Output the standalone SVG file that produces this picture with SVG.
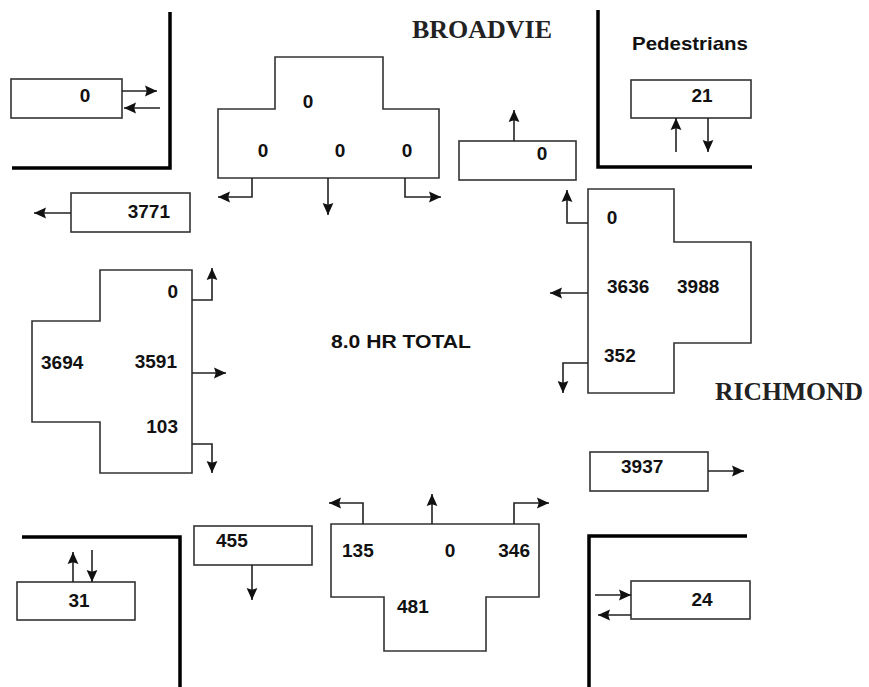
<svg xmlns="http://www.w3.org/2000/svg" width="869" height="687" viewBox="0 0 869 687">
<defs>
<marker id="ah" viewBox="0 0 10 10" refX="10" refY="5" markerWidth="12" markerHeight="12" markerUnits="userSpaceOnUse" orient="auto">
<path d="M0,0.5 L10,5 L0,9.5 L1.5,5 Z" fill="#111"/>
</marker>
<style>
.box{fill:#fff;stroke:#333;stroke-width:1.6}
.wall{fill:none;stroke:#000;stroke-width:3.5}
.arr{fill:none;stroke:#222;stroke-width:1.6;marker-end:url(#ah)}
.num{font-family:"Liberation Sans",Arial,sans-serif;font-weight:bold;font-size:19px;fill:#111}
.street{font-family:"Liberation Serif","Times New Roman",serif;font-weight:bold;font-size:25px;fill:#222}
</style>
</defs>
<rect width="869" height="687" fill="#fff"/>

<g id="walls">
<path class="wall" d="M12,168 H170 V12"/>
<path class="wall" d="M598,10 V167 H752"/>
<path class="wall" d="M22,537 H180 V687"/>
<path class="wall" d="M747,536 H589 V687"/>
</g>

<g id="labels">
<text class="street" x="412" y="38" textLength="140" lengthAdjust="spacingAndGlyphs">BROADVIE</text>
<text class="street" x="715" y="400" textLength="148" lengthAdjust="spacingAndGlyphs">RICHMOND</text>
<text class="num" x="632" y="50" font-size="17" textLength="116" lengthAdjust="spacingAndGlyphs">Pedestrians</text>
<text class="num" x="331" y="348" textLength="140" lengthAdjust="spacingAndGlyphs">8.0 HR TOTAL</text>
</g>

<g id="ped-nw">
<rect class="box" x="11" y="79" width="111" height="39"/>
<text class="num" x="85" y="102" text-anchor="middle">0</text>
</g>
<g id="exit-west">
<rect class="box" x="71" y="193" width="119" height="39"/>
<text class="num" x="170" y="218" text-anchor="end">3771</text>
</g>
<g id="north-approach">
<path class="box" d="M218,178 V109 H275 V57 H383 V109 H439 V178 Z"/>
<text class="num" x="308" y="108" text-anchor="middle">0</text>
<text class="num" x="263" y="157" text-anchor="middle">0</text>
<text class="num" x="340" y="157" text-anchor="middle">0</text>
<text class="num" x="407" y="157" text-anchor="middle">0</text>
</g>
<g id="exit-north">
<rect class="box" x="459" y="141" width="117" height="39"/>
<text class="num" x="542" y="160" text-anchor="middle">0</text>
</g>
<g id="ped-ne">
<rect class="box" x="631" y="80" width="120" height="38"/>
<text class="num" x="702" y="102" text-anchor="middle">21</text>
</g>
<g id="east-approach">
<path class="box" d="M588,189 H674 V242 H751 V343 H674 V393 H588 Z"/>
<text class="num" x="612" y="224" text-anchor="middle">0</text>
<text class="num" x="607" y="293">3636</text>
<text class="num" x="677" y="293">3988</text>
<text class="num" x="604" y="362">352</text>
</g>
<g id="exit-east">
<rect class="box" x="590" y="452" width="118" height="39"/>
<text class="num" x="621" y="473">3937</text>
</g>
<g id="west-approach">
<path class="box" d="M100,270 H192 V473 H100 V422 H32 V321 H100 Z"/>
<text class="num" x="178" y="298" text-anchor="end">0</text>
<text class="num" x="41" y="369">3694</text>
<text class="num" x="177" y="368" text-anchor="end">3591</text>
<text class="num" x="178" y="433" text-anchor="end">103</text>
</g>
<g id="exit-south">
<rect class="box" x="194" y="526" width="118" height="39"/>
<text class="num" x="216" y="547">455</text>
</g>
<g id="ped-sw">
<rect class="box" x="17" y="582" width="118" height="38"/>
<text class="num" x="79" y="607" text-anchor="middle">31</text>
</g>
<g id="south-approach">
<path class="box" d="M331,524 H539 V597 H486 V651 H384 V597 H331 Z"/>
<text class="num" x="342" y="557">135</text>
<text class="num" x="450" y="557" text-anchor="middle">0</text>
<text class="num" x="530" y="557" text-anchor="end">346</text>
<text class="num" x="397" y="613">481</text>
</g>
<g id="ped-se">
<rect class="box" x="631" y="581" width="119" height="38"/>
<text class="num" x="702" y="606" text-anchor="middle">24</text>
</g>

<g id="connectors">
<path class="arr" d="M122,91 H157"/>
<path class="arr" d="M160,108 H124"/>
<path class="arr" d="M71,213 H34"/>
<path class="arr" d="M252,178 V197 H218"/>
<path class="arr" d="M328,178 V215"/>
<path class="arr" d="M405,178 V197 H441"/>
<path class="arr" d="M514,141 V110"/>
<path class="arr" d="M676,152 V118"/>
<path class="arr" d="M708,118 V152"/>
<path class="arr" d="M588,223 H567 V190"/>
<path class="arr" d="M588,293 H550"/>
<path class="arr" d="M588,363 H563 V393"/>
<path class="arr" d="M708,471 H744"/>
<path class="arr" d="M192,300 H212 V268"/>
<path class="arr" d="M192,373 H226"/>
<path class="arr" d="M192,444 H212 V473"/>
<path class="arr" d="M252,565 V600"/>
<path class="arr" d="M73,582 V552"/>
<path class="arr" d="M92,550 V582"/>
<path class="arr" d="M363,524 V503 H329"/>
<path class="arr" d="M432,524 V494"/>
<path class="arr" d="M514,524 V503 H549"/>
<path class="arr" d="M595,595 H631"/>
<path class="arr" d="M631,615 H598"/>
</g>
</svg>
